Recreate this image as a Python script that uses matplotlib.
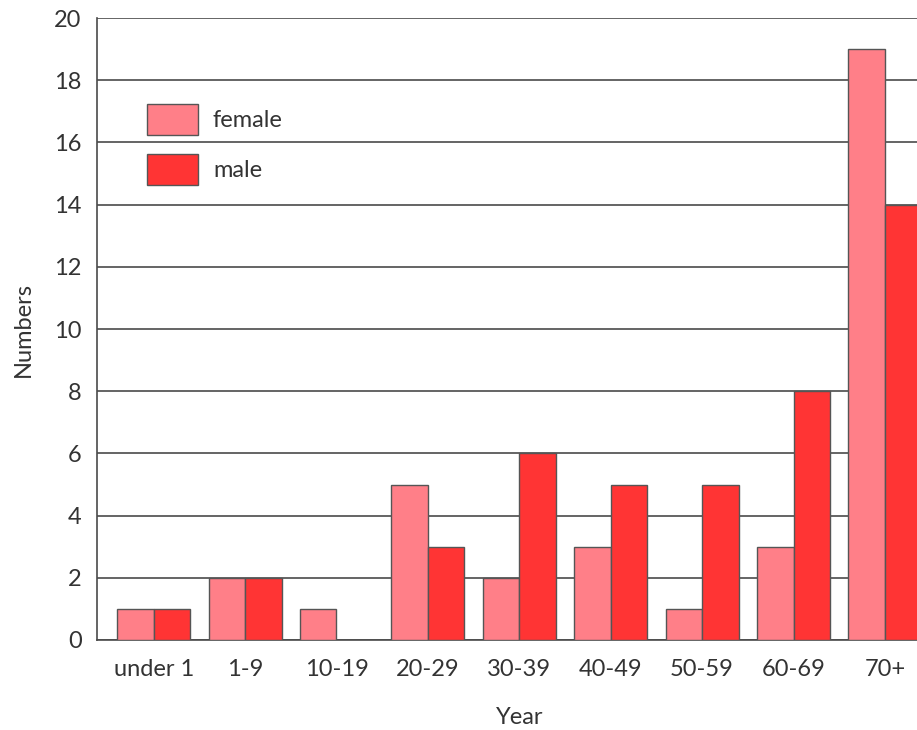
import matplotlib
matplotlib.use("Agg")
import matplotlib.pyplot as plt
import numpy as np

categories = ["under 1", "1-9", "10-19", "20-29", "30-39", "40-49", "50-59", "60-69", "70+"]
female = [1, 2, 1, 5, 2, 3, 1, 3, 19]
male = [1, 2, 0, 3, 6, 5, 5, 8, 14]
yticks = [0, 2, 4, 6, 8, 10, 12, 14, 16, 18, 20]

plt.rcParams["font.family"] = ["Lato", "DejaVu Sans"]
text_color = "#333333"
line_color = "#4a4a4a"
fs = 17

fig = plt.figure(figsize=(9.17, 7.30), dpi=100)
ax = fig.add_axes([0.1058, 0.1233, 0.921, 0.852])

x = np.arange(len(categories))
w = 0.4
ax.bar(x - w / 2, female, width=w, color="#ff7f88", edgecolor="#555555",
       linewidth=1.0, label="female", zorder=3)
bars_m = ax.bar(x + w / 2, male, width=w, color="#ff3434", edgecolor="#555555",
                linewidth=1.0, label="male", zorder=3)
for b, v in zip(bars_m, male):
    if v == 0:
        b.set_visible(False)

ax.set_xlim(-0.62, 8.62)
ax.set_ylim(0, 20)
ax.set_yticks(yticks)
ax.set_xticks(x)
ax.set_xticklabels(categories)
ax.yaxis.grid(True, color=line_color, linewidth=1.2, zorder=1)
ax.set_axisbelow(True)
ax.tick_params(axis="both", length=0, labelsize=fs, colors=text_color)
ax.tick_params(axis="y", pad=11)
ax.tick_params(axis="x", pad=14)

for side in ["top", "right"]:
    ax.spines[side].set_visible(False)
for side in ["left", "bottom"]:
    ax.spines[side].set_color(line_color)
    ax.spines[side].set_linewidth(1.2)

ax.set_ylabel("Numbers", fontsize=fs, color=text_color, labelpad=15)
ax.set_xlabel("Year", fontsize=fs, color=text_color, labelpad=19)

ax.legend(loc="upper left", bbox_to_anchor=(0.059, 0.862), frameon=False,
          borderaxespad=0, borderpad=0, fontsize=fs, handlelength=2.16,
          handleheight=1.64, labelspacing=0.8, handletextpad=0.64,
          labelcolor=text_color)

fig.savefig("out.png", dpi=100)
